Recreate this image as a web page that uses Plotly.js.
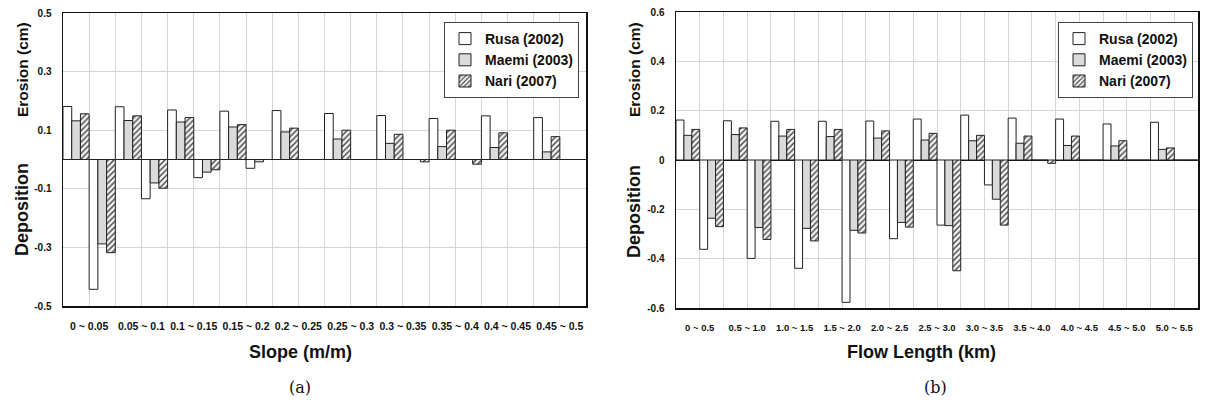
<!DOCTYPE html>
<html>
<head>
<meta charset="utf-8">
<script src="https://cdn.plot.ly/plotly-3.0.1.min.js"></script>
<style>
  html, body { margin: 0; padding: 0; background: #fff; }
  #chart { width: 1205px; height: 405px; }
</style>
</head>
<body>
<div id="chart"></div>
<script>
// ---------- data: (a) slope ----------
const seriesNames = ['Rusa (2002)', 'Maemi (2003)', 'Nari (2007)'];

const slopeCats = ['0 ~ 0.05', '0.05 ~ 0.1', '0.1 ~ 0.15', '0.15 ~ 0.2', '0.2 ~ 0.25',
                   '0.25 ~ 0.3', '0.3 ~ 0.35', '0.35 ~ 0.4', '0.4 ~ 0.45', '0.45 ~ 0.5'];
const slopeRusaEro  = [0.181, 0.180, 0.169, 0.165, 0.167, 0.157, 0.150, 0.140, 0.149, 0.143];
const slopeRusaDep  = [-0.443, -0.134, -0.062, -0.030, 0, 0, 0, 0, 0, 0];
const slopeMaemiEro = [0.132, 0.133, 0.128, 0.111, 0.094, 0.070, 0.055, 0.044, 0.041, 0.026];
const slopeMaemiDep = [-0.288, -0.080, -0.043, -0.008, 0, 0, 0, 0, 0, 0];
const slopeNariEro  = [0.156, 0.149, 0.143, 0.119, 0.107, 0.100, 0.086, 0.100, 0.091, 0.078];
const slopeNariDep  = [-0.318, -0.098, -0.035, 0, 0, 0, -0.008, -0.016, 0, 0];

// ---------- data: (b) flow length ----------
const flowCats = ['0 ~ 0.5', '0.5 ~ 1.0', '1.0 ~ 1.5', '1.5 ~ 2.0', '2.0 ~ 2.5', '2.5 ~ 3.0',
                  '3.0 ~ 3.5', '3.5 ~ 4.0', '4.0 ~ 4.5', '4.5 ~ 5.0', '5.0 ~ 5.5'];
const flowRusaEro  = [0.162, 0.159, 0.157, 0.157, 0.158, 0.166, 0.182, 0.170, 0.166, 0.146, 0.153];
const flowRusaDep  = [-0.362, -0.399, -0.439, -0.577, -0.319, -0.264, -0.101, 0, 0, 0, 0];
const flowMaemiEro = [0.100, 0.103, 0.097, 0.095, 0.089, 0.081, 0.078, 0.068, 0.059, 0.057, 0.043];
const flowMaemiDep = [-0.236, -0.274, -0.277, -0.285, -0.253, -0.266, -0.159, 0, 0, 0, 0];
const flowNariEro  = [0.124, 0.130, 0.124, 0.124, 0.118, 0.108, 0.100, 0.097, 0.097, 0.078, 0.049];
const flowNariDep  = [-0.270, -0.322, -0.328, -0.296, -0.272, -0.449, -0.264, -0.0135, 0, 0, 0];

const slopeYTicks = [0.5, 0.3, 0.1, -0.1, -0.3, -0.5];
const flowYTicks  = [0.6, 0.4, 0.2, 0, -0.2, -0.4, -0.6];

// ---------- styling ----------
const FONT = 'Liberation Sans, Arial, Helvetica, sans-serif';
const styles = [
  {color: '#ffffff', line: {color: '#222', width: 1}},
  {color: '#dadada', line: {color: '#222', width: 1}},
  {color: '#ffffff', line: {color: '#222', width: 1},
   pattern: {shape: '/', fgcolor: '#444', bgcolor: '#f2f2f2', size: 4, solidity: 0.35}}
];

// erosion in left half of each category, deposition in right half
function interleave(ero, dep) {
  const x = [], y = [];
  ero.forEach((v, i) => { x.push(i - 0.25); y.push(v); x.push(i + 0.25); y.push(dep[i]); });
  return {x, y};
}

function makeTraces(eroList, depList, xa, ya, legendId) {
  return seriesNames.map((name, k) => {
    const d = interleave(eroList[k], depList[k]);
    return {
      type: 'bar', name: name, x: d.x, y: d.y, xaxis: xa, yaxis: ya,
      legend: legendId, marker: styles[k], hoverinfo: 'none'
    };
  });
}

const traces = [].concat(
  makeTraces([slopeRusaEro, slopeMaemiEro, slopeNariEro],
             [slopeRusaDep, slopeMaemiDep, slopeNariDep], 'x', 'y', 'legend'),
  makeTraces([flowRusaEro, flowMaemiEro, flowNariEro],
             [flowRusaDep, flowMaemiDep, flowNariDep], 'x2', 'y2', 'legend2')
);

function xAxis(cats, domain, anchor, fsize) {
  return {
    domain: domain, anchor: anchor,
    range: [-0.5, cats.length - 0.5],
    tickmode: 'array', tickvals: cats.map((c, i) => i), ticktext: cats,
    ticks: '', ticklabelstandoff: 10,
    tickfont: {family: FONT, size: fsize, color: '#111', weight: 'bold'},
    showgrid: true, gridcolor: '#d6d6d6', gridwidth: 1,
    minor: {tick0: -0.5, dtick: 0.5, showgrid: true, gridcolor: '#d6d6d6', gridwidth: 1, ticks: ''},
    showline: true, linecolor: '#111', linewidth: 1.5, mirror: true,
    zeroline: false, fixedrange: true
  };
}

function yAxis(ticks, range, domain, anchor) {
  return {
    domain: domain, anchor: anchor, range: range,
    tickmode: 'array', tickvals: ticks, ticktext: ticks.map(v => String(v)),
    ticks: '', ticklabelstandoff: 8,
    tickfont: {family: FONT, size: 10, color: '#111', weight: 'bold'},
    showgrid: true, gridcolor: '#d6d6d6', gridwidth: 1,
    showline: true, linecolor: '#111', linewidth: 1.5, mirror: true,
    zeroline: true, zerolinecolor: '#111', zerolinewidth: 1, fixedrange: true
  };
}

const W = 1205, H = 405;
const px = v => v / W, py = v => 1 - v / H;

function note(text, x, y, size, angle, family) {
  return {
    text: text, x: px(x), y: py(y), xref: 'paper', yref: 'paper', showarrow: false,
    xanchor: 'center', yanchor: 'middle', textangle: angle || 0,
    font: {family: family || FONT, size: size, color: '#111', weight: family ? 'normal' : 'bold'}
  };
}

const legendBase = {
  yanchor: 'top', xanchor: 'right', y: py(22),
  bgcolor: '#fff', bordercolor: '#444', borderwidth: 1,
  font: {family: FONT, size: 14, color: '#111', weight: 'bold'},
  itemwidth: 30, tracegroupgap: 0
};

const layout = {
  width: W, height: H,
  margin: {l: 0, r: 0, t: 0, b: 0},
  paper_bgcolor: '#fff', plot_bgcolor: '#fff',
  barmode: 'group', bargap: 0, bargroupgap: 0,
  showlegend: true,
  xaxis:  xAxis(slopeCats, [px(63), px(586)], 'y', 10.5),
  yaxis:  yAxis(slopeYTicks, [-0.5, 0.5], [py(306), py(13)], 'x'),
  xaxis2: xAxis(flowCats, [px(676), px(1198)], 'y2', 9.5),
  yaxis2: yAxis(flowYTicks, [-0.6, 0.6], [py(308), py(12)], 'x2'),
  legend:  Object.assign({}, legendBase, {x: px(579)}),
  legend2: Object.assign({}, legendBase, {x: px(1193)}),
  annotations: [
    note('Erosion (cm)', 22, 70, 15.5, -90),
    note('Deposition', 22, 210, 18, -90),
    note('Erosion (cm)', 634, 70, 15.5, -90),
    note('Deposition', 634, 212, 18, -90),
    note('Slope (m/m)', 300, 352, 18),
    note('Flow Length (km)', 922, 352, 18),
    note('(a)', 300, 387, 16, 0, 'DejaVu Serif, Liberation Serif, serif'),
    note('(b)', 935, 387, 16, 0, 'DejaVu Serif, Liberation Serif, serif')
  ]
};

Plotly.newPlot('chart', traces, layout, {displayModeBar: false, staticPlot: true});
</script>
</body>
</html>
